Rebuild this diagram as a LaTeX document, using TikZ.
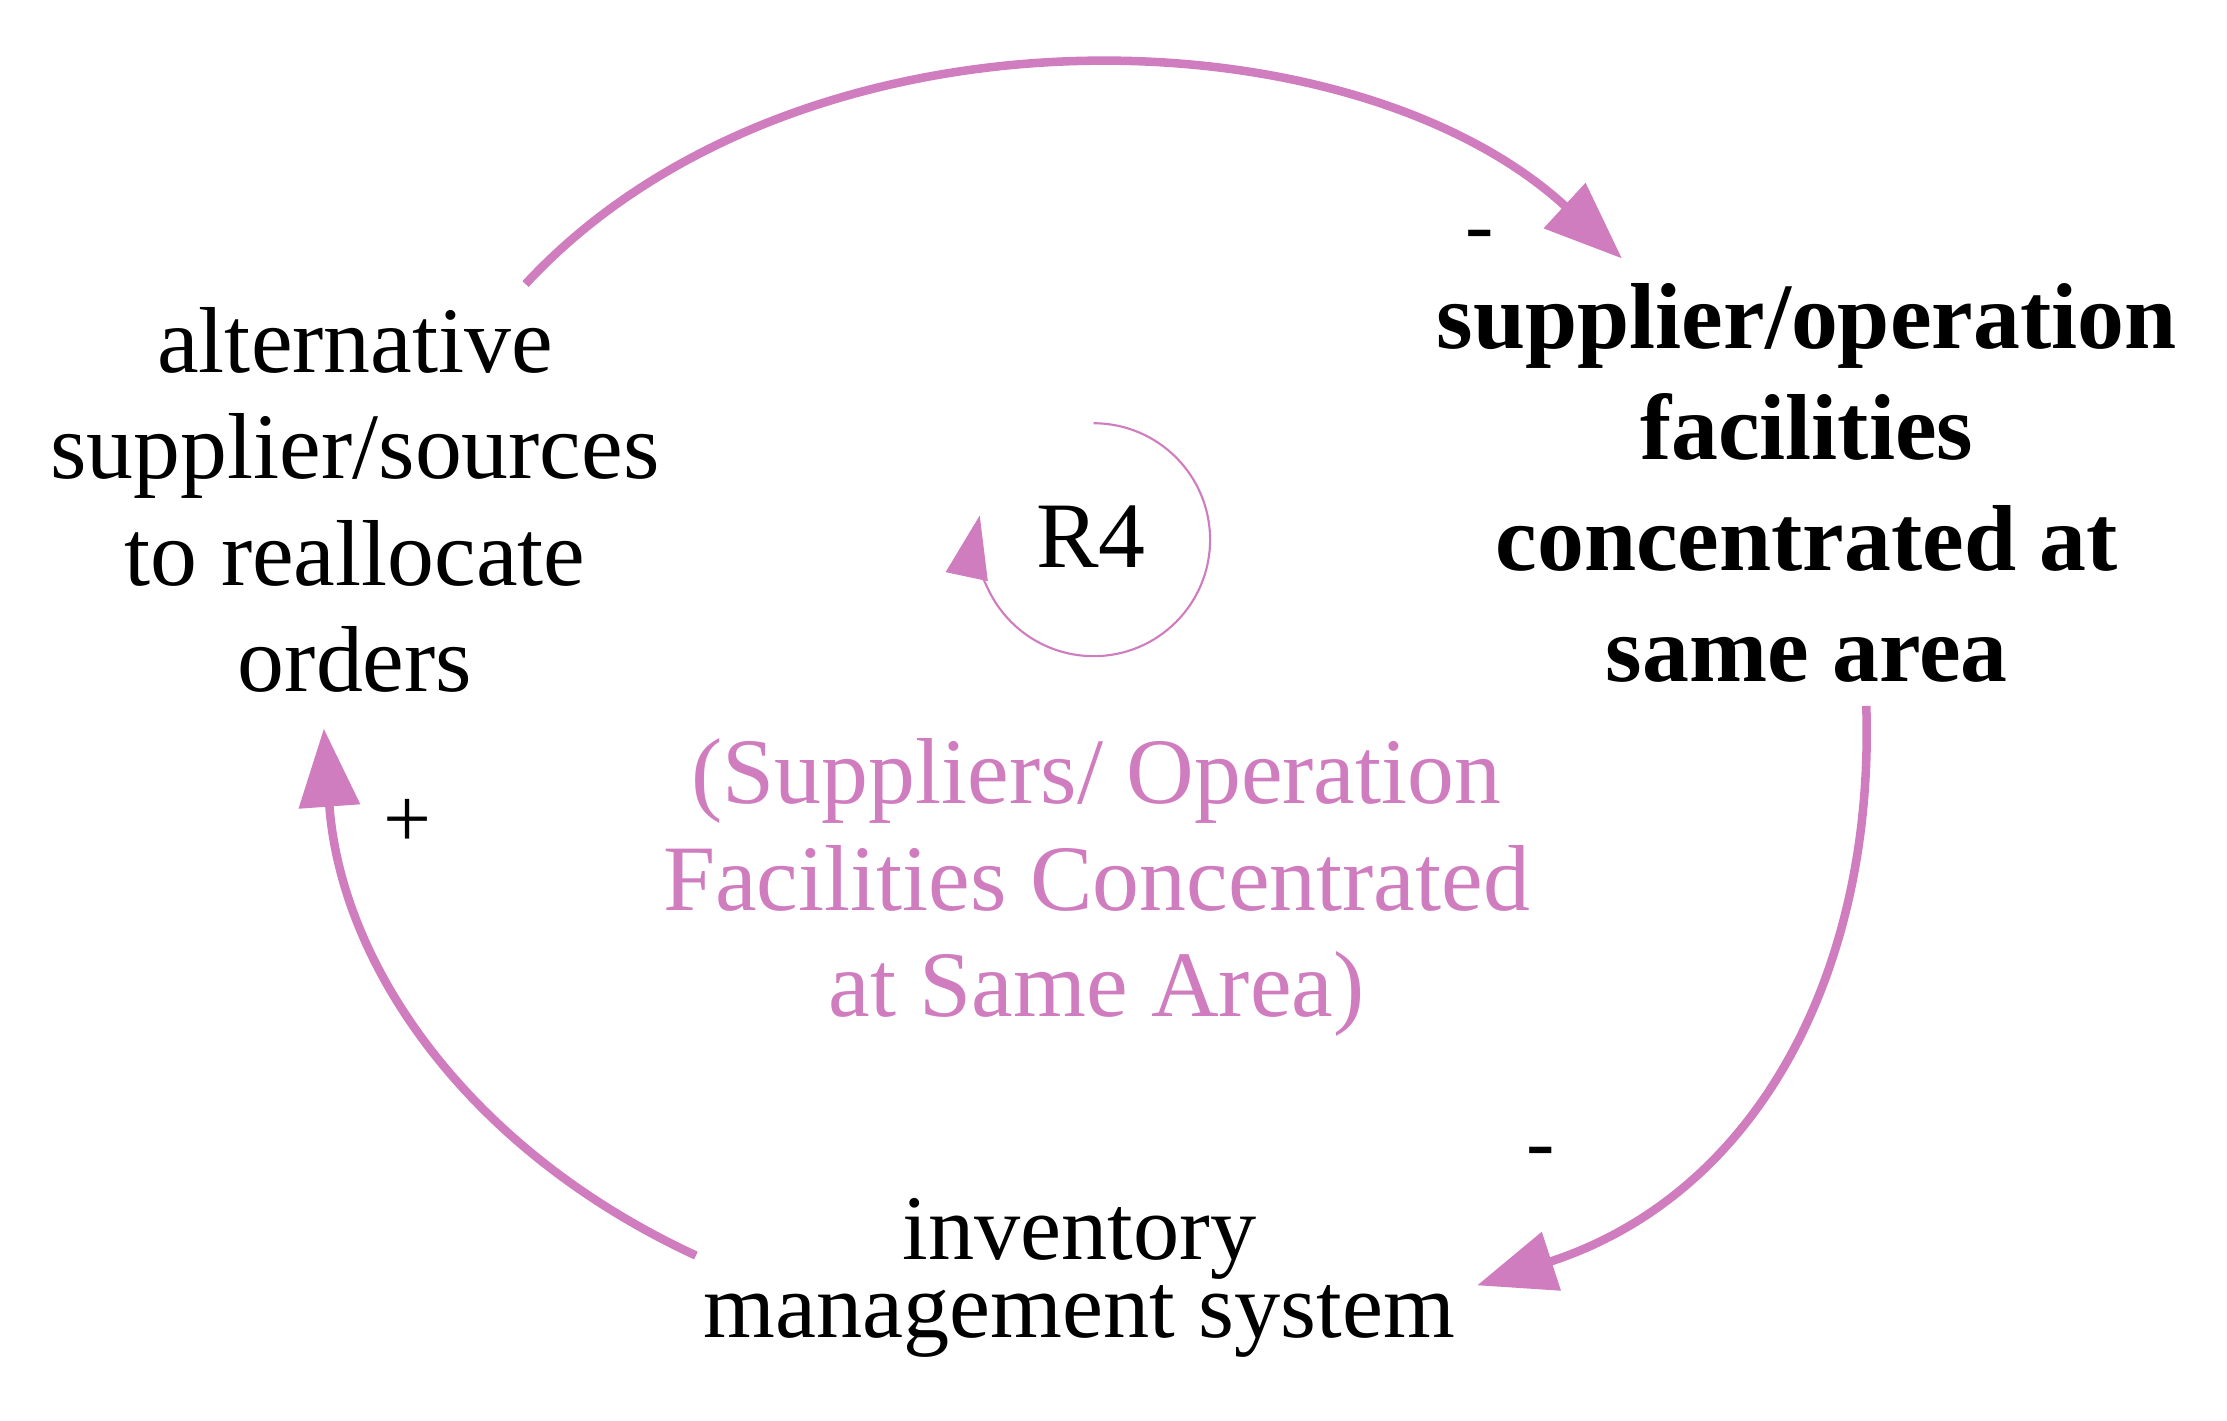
\documentclass[tikz,border=0pt]{standalone}
\usepackage{fontspec}
\setmainfont{Liberation Serif}
\usetikzlibrary{arrows.meta}
\definecolor{pinkc}{RGB}{208,125,192}
\begin{document}
\begin{tikzpicture}[x=1pt,y=-1pt,
  lbl/.style={align=center,inner sep=0pt,font=\fontsize{66}{75}\selectfont},
  link/.style={pinkc,line width=6pt,-{Triangle[length=55pt,width=42pt]}},
  sgn/.style={font=\fontsize{60}{60}\selectfont}]
\useasboundingbox (0,0) rectangle (1568,1000);
\node[lbl] (alt) at (250,352) {alternative\\supplier/sources\\to reallocate\\orders};
\node[lbl,font=\fontsize{66}{78}\bfseries\selectfont] (sup) at (1272,340) {supplier/operation\\facilities\\concentrated at\\same area};
\node[lbl,font=\fontsize{65}{55}\selectfont] (inv) at (760,900) {inventory\\management system};
\node[lbl,text=pinkc] (loop) at (772,625) {(Suppliers/ Operation\\Facilities Concentrated\\at Same Area)};
\node[lbl] (r4) at (768,378) {R4};
\coordinate (a1) at (370,200);
\coordinate (a2) at (1142,182);
\coordinate (b1) at (1314,497);
\coordinate (b2) at (1040,905);
\coordinate (c1) at (490,884);
\coordinate (c2) at (228,513);
\draw[link] (a1) .. controls (560,-5) and (950,5) .. (a2);
\draw[link] (b1) .. controls (1320,680) and (1240,840) .. (b2);
\draw[link] (c1) .. controls (330,810) and (240,680) .. (c2);
\draw[pinkc,line width=1.5pt,-{Triangle[length=44pt,width=30pt]}] (770,298) arc[start angle=-90,end angle=192,radius=82];
\node[sgn] (s1) at (1042,170) {-};
\node[sgn] (s2) at (1085,816) {-};
\node[sgn] (s3) at (287,580) {+};
\end{tikzpicture}
\end{document}
